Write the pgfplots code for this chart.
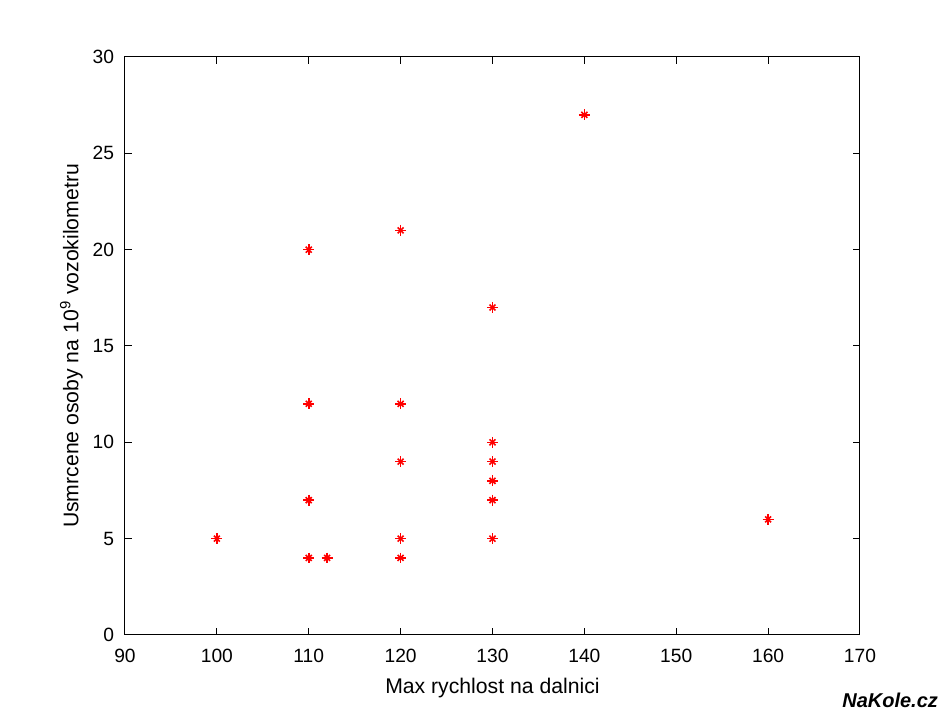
\documentclass[border=0pt]{standalone}
\usepackage{pgfplots}
\pgfplotsset{compat=1.18}
\usepackage{fontspec}
\setmainfont{Liberation Sans}
\begin{document}
\begin{tikzpicture}
\useasboundingbox[fill=white] (-62.5pt,-39pt) rectangle (412.5pt,317.5pt);
\begin{axis}[
  at={(0pt,0pt)}, anchor=south west,
  scale only axis, width=367.5pt, height=289pt,
  xmin=90, xmax=170, ymin=0, ymax=30,
  xtick={90,100,...,170}, ytick={0,5,...,30},
  tick align=inside, major tick length=3.5pt,
  tick style={black, line width=0.5pt},
  axis line style={line width=0.5pt},
  /pgf/number format/assume math mode=true,
  ticklabel style={font=\fontsize{9.6}{12}\selectfont},
  xticklabel style={yshift=-3.5pt},
  yticklabel style={xshift=-2pt},
  label style={font=\fontsize{10.6}{12}\selectfont},
  xlabel={Max rychlost na dalnici},
  ylabel={Usmrcene osoby na 10\textsuperscript{9} vozokilometru},
  xlabel style={yshift=-1pt},
  ylabel style={yshift=-2pt},
]
\addplot[only marks, mark=+, mark size=2.7pt, red, mark options={line width=0.8pt}] coordinates {
(100,5) (110,20) (110,12) (110,7) (110,4) (112,4)
(120,21) (120,12) (120,9) (120,5) (120,4)
(130,17) (130,10) (130,9) (130,8) (130,7) (130,5)
(140,27) (160,6)
};
\addplot[only marks, mark=x, mark size=2.1pt, red, mark options={line width=0.8pt}] coordinates {
(100,5) (110,20) (110,12) (110,7) (110,4) (112,4)
(120,21) (120,12) (120,9) (120,5) (120,4)
(130,17) (130,10) (130,9) (130,8) (130,7) (130,5)
(140,27) (160,6)
};
\end{axis}
\node[font=\bfseries\itshape\fontsize{10}{12}\selectfont, anchor=east] at (410pt,-32.5pt) {NaKole.cz};
\end{tikzpicture}
\end{document}
